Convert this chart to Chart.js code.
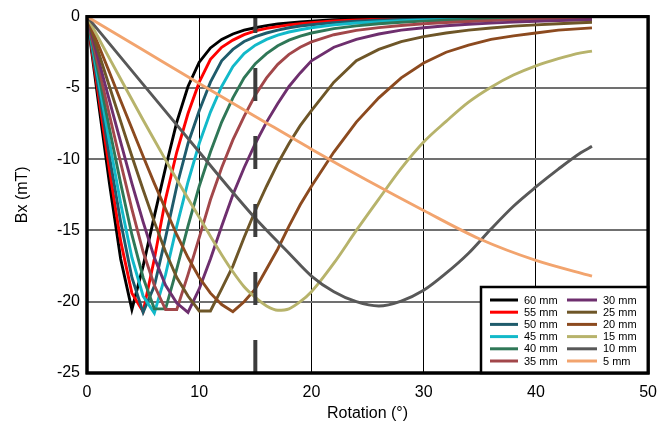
<!DOCTYPE html>
<html><head><meta charset="utf-8">
<script src="https://cdn.jsdelivr.net/npm/chart.js@4.4.1/dist/chart.umd.min.js"></script>
<style>html,body{margin:0;padding:0;background:#fff;}</style>
</head><body>
<canvas id="c" width="667" height="430"></canvas>
<script>
// ---- data (Bx in mT vs rotation in degrees) ----
const distances = ['60 mm','55 mm','50 mm','45 mm','40 mm','35 mm','30 mm','25 mm','20 mm','15 mm','10 mm','5 mm'];
const colors = ['#000000','#ff0000','#1f5b6b','#12b9c9','#2f7757','#a2474a','#6e2f6e','#6e5628','#8c4a1f','#b7b36b','#585858','#f2a46e'];
const angles = [0,1,2,3,4,5,6,7,8,9,10,11,12,13,14,15,16,17,18,19,20,22,24,26,28,30,32,34,36,38,40,42,44,45];
const bx60 = [0,-5.9,-11.7,-17.0,-20.55,-17.5,-14.0,-10.6,-7.4,-4.9,-3.2,-2.2,-1.6,-1.22,-0.95,-0.78,-0.63,-0.52,-0.44,-0.37,-0.32,-0.22,-0.16,-0.12,-0.09,-0.07,-0.05,-0.04,-0.03,-0.02,-0.01,-0.01,0,0];
const bx55 = [0,-5.4,-10.75,-15.75,-19.4,-20.7,-17.0,-12.8,-9.5,-6.8,-4.6,-3.0,-2.15,-1.65,-1.27,-1.0,-0.83,-0.7,-0.58,-0.5,-0.42,-0.31,-0.24,-0.19,-0.15,-0.11,-0.09,-0.07,-0.05,-0.04,-0.03,-0.02,-0.01,-0.01];
const bx50 = [0,-4.9,-9.8,-14.4,-18.3,-20.75,-18.9,-15.5,-11.9,-8.9,-6.6,-4.6,-3.1,-2.3,-1.75,-1.4,-1.15,-0.95,-0.78,-0.66,-0.57,-0.42,-0.33,-0.26,-0.2,-0.16,-0.13,-0.1,-0.08,-0.06,-0.05,-0.04,-0.03,-0.03];
const bx45 = [0,-4.4,-8.8,-13.1,-16.9,-19.6,-20.8,-18.1,-14.7,-11.6,-8.9,-6.7,-4.9,-3.5,-2.6,-2.0,-1.6,-1.3,-1.08,-0.92,-0.78,-0.58,-0.45,-0.36,-0.28,-0.22,-0.18,-0.15,-0.12,-0.1,-0.08,-0.06,-0.05,-0.05];
const bx40 = [0,-3.9,-7.85,-11.7,-15.3,-18.3,-20.5,-20.5,-17.7,-14.7,-11.9,-9.5,-7.4,-5.7,-4.3,-3.3,-2.6,-2.05,-1.65,-1.37,-1.15,-0.84,-0.65,-0.5,-0.4,-0.32,-0.26,-0.22,-0.18,-0.15,-0.12,-0.1,-0.08,-0.08];
const bx35 = [0,-3.45,-6.9,-10.25,-13.5,-16.5,-18.85,-20.55,-20.55,-18.1,-15.5,-12.85,-10.6,-8.65,-7.0,-5.5,-4.3,-3.35,-2.65,-2.15,-1.78,-1.27,-0.97,-0.77,-0.62,-0.5,-0.41,-0.34,-0.28,-0.23,-0.2,-0.17,-0.14,-0.13];
const bx30 = [0,-2.95,-5.9,-8.8,-11.7,-14.4,-16.9,-18.85,-20.1,-20.75,-19.1,-17.0,-14.7,-12.5,-10.6,-8.9,-7.4,-6.1,-4.9,-3.95,-3.1,-2.15,-1.6,-1.22,-0.95,-0.78,-0.64,-0.54,-0.46,-0.39,-0.33,-0.28,-0.24,-0.22];
const bx25 = [0,-2.45,-4.9,-7.35,-9.8,-12.15,-14.4,-16.5,-18.3,-19.6,-20.65,-20.65,-19.1,-17.5,-15.5,-13.6,-11.9,-10.3,-8.9,-7.65,-6.6,-4.6,-3.1,-2.3,-1.75,-1.4,-1.15,-0.95,-0.8,-0.67,-0.58,-0.5,-0.43,-0.4];
const bx20 = [0,-1.96,-3.9,-5.9,-7.85,-9.8,-11.7,-13.5,-15.3,-16.9,-18.3,-19.4,-20.2,-20.7,-20.0,-19.1,-17.7,-16.3,-14.7,-13.2,-11.9,-9.5,-7.4,-5.7,-4.3,-3.25,-2.5,-2.0,-1.6,-1.35,-1.15,-0.95,-0.84,-0.79];
const bx15 = [0,-1.47,-2.93,-4.38,-5.82,-7.25,-8.66,-10.05,-11.42,-12.76,-14.07,-15.4,-16.7,-17.9,-18.95,-19.7,-20.3,-20.6,-20.5,-20.0,-19.3,-17.3,-15.0,-12.8,-10.65,-8.8,-7.35,-6.0,-4.95,-4.1,-3.45,-2.95,-2.55,-2.42];
const angles10 = [0,5,10,15,18,20,22,24,26,28,30,32,34,36,38,40,42,44,45];
const bx10 = [0,-4.75,-9.5,-14.15,-16.6,-18.2,-19.3,-20.0,-20.3,-19.95,-19.2,-18.0,-16.6,-14.9,-13.3,-11.95,-10.7,-9.55,-9.1];
const angles5 = [0,5,10,15,20,25,30,35,40,45];
const bx5 = [0,-2.35,-4.7,-7.0,-9.3,-11.5,-13.6,-15.6,-17.1,-18.2];
const markerAngle = 15;
const xTicks = [0,10,20,30,40,50];
const yTicks = [0,-5,-10,-15,-20,-25];

const seriesX = [angles,angles,angles,angles,angles,angles,angles,angles,angles,angles,angles10,angles5];
const seriesY = [bx60,bx55,bx50,bx45,bx40,bx35,bx30,bx25,bx20,bx15,bx10,bx5];

const FONT = "'Liberation Sans', Arial, sans-serif";
Chart.defaults.font.family = FONT;
Chart.defaults.color = '#000';

const datasets = seriesY.map((ys, i) => ({
  label: distances[i],
  data: ys.map((y, k) => ({x: seriesX[i][k], y})),
  borderColor: colors[i],
  backgroundColor: colors[i],
  borderWidth: 2.9,
  pointRadius: 0,
  fill: false,
  tension: 0,
  cubicInterpolationMode: i >= 9 ? 'monotone' : 'default',
  order: 30 - i
}));
datasets.push({
  label: '_marker',
  data: [{x: markerAngle, y: yTicks[yTicks.length-1]}, {x: markerAngle, y: yTicks[0]}],
  borderColor: '#3c3c3c',
  borderWidth: 4,
  borderDash: [33, 35],
  pointRadius: 0,
  fill: false,
  order: 0
});

const framePlugin = {
  id: 'frame',
  afterDatasetsDraw(chart) {
    const {ctx, chartArea: a} = chart;
    ctx.save();
    ctx.strokeStyle = '#000';
    ctx.lineWidth = 3;
    ctx.strokeRect(a.left, a.top, a.right - a.left, a.bottom - a.top);
    ctx.restore();
  }
};

const legendPlugin = {
  id: 'boxLegend',
  afterDraw(chart) {
    const {ctx, chartArea: a} = chart;
    const items = chart.data.datasets.filter(d => d.label !== '_marker');
    const right = a.right, bottom = a.bottom, left = 481, top = 287;
    ctx.save();
    ctx.fillStyle = '#fff';
    ctx.fillRect(left, top, right - left, bottom - top);
    ctx.strokeStyle = '#000';
    ctx.lineWidth = 2.5;
    ctx.strokeRect(left, top, right - left, bottom - top);
    ctx.font = '11px ' + FONT;
    ctx.textBaseline = 'middle';
    ctx.textAlign = 'left';
    const rows = 6;
    items.forEach((d, i) => {
      const col = Math.floor(i / rows), row = i % rows;
      const y = top + 13 + row * 12.2;
      const x0 = col === 0 ? left + 9 : left + 86;
      const len = col === 0 ? 28 : 30;
      ctx.strokeStyle = d.borderColor;
      ctx.lineWidth = 3;
      ctx.beginPath();
      ctx.moveTo(x0, y);
      ctx.lineTo(x0 + len, y);
      ctx.stroke();
      ctx.fillStyle = '#000';
      ctx.fillText(d.label, x0 + len + 6, y + 0.5);
    });
    ctx.strokeStyle = '#000';
    ctx.lineWidth = 3;
    ctx.strokeRect(a.left, a.top, a.right - a.left, a.bottom - a.top);
    ctx.restore();
  }
};

new Chart(document.getElementById('c'), {
  type: 'line',
  data: {datasets},
  options: {
    responsive: false,
    devicePixelRatio: 1,
    animation: false,
    layout: {padding: {left: 0, top: 16, right: 15, bottom: 0}},
    plugins: {legend: {display: false}, tooltip: {enabled: false}},
    scales: {
      x: {
        type: 'linear', min: xTicks[0], max: xTicks[xTicks.length-1],
        afterBuildTicks: s => { s.ticks = xTicks.map(v => ({value: v})); },
        afterFit: s => { s.height = 57; },
        ticks: {font: {size: 16}, color: '#000', padding: 10, maxRotation: 0},
        grid: {color: '#000', lineWidth: 1, drawTicks: false},
        border: {display: false},
        title: {display: true, text: 'Rotation (°)', font: {size: 16}, color: '#000', padding: {top: 0, bottom: 7}}
      },
      y: {
        type: 'linear', min: yTicks[yTicks.length-1], max: yTicks[0],
        afterBuildTicks: s => { s.ticks = yTicks.slice().reverse().map(v => ({value: v})); },
        afterFit: s => { s.width = 87; },
        ticks: {font: {size: 16}, color: '#000', padding: 7},
        grid: {color: '#707070', lineWidth: 2, drawTicks: false},
        border: {display: false},
        title: {display: true, text: 'Bx (mT)', font: {size: 16}, color: '#000', padding: {top: 13, bottom: 0}}
      }
    }
  },
  plugins: [framePlugin, legendPlugin]
});
</script>
</body></html>
